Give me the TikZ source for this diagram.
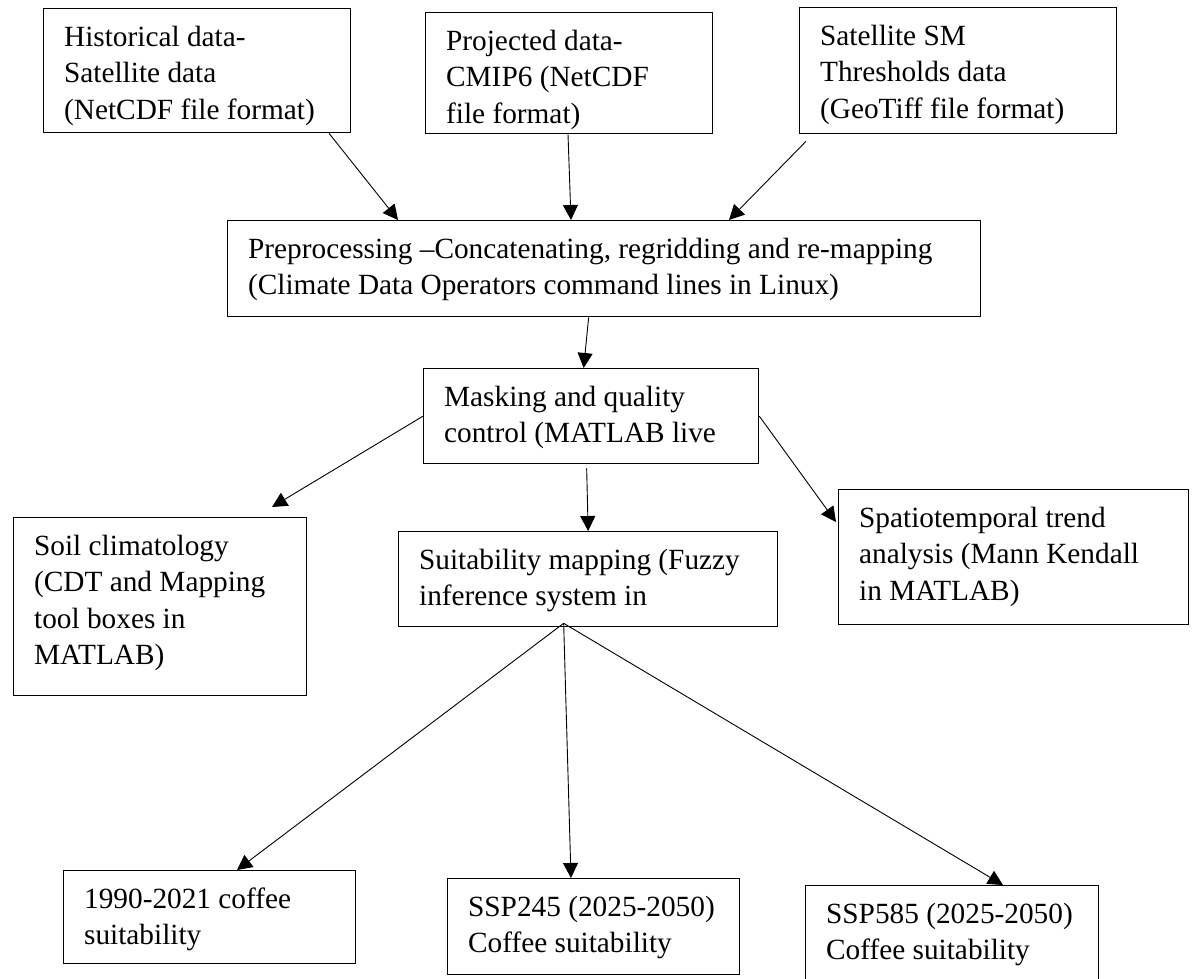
\documentclass[tikz,border=0pt]{standalone}
\usepackage{fontspec}
\setmainfont{Liberation Serif}
\usetikzlibrary{arrows.meta}
% fixed-size cell: text block pinned to the top-left corner of the box
\newcommand{\cellbox}[3]{\parbox[c][#2pt][t]{#1pt}{\vspace*{12pt}\hspace*{20.5pt}\begin{tabular}[t]{@{}l@{}}#3\end{tabular}}}
\begin{document}
\begin{tikzpicture}[x=1pt,y=-1pt,
  stage/.style={draw=black, line width=1.3pt, inner sep=0pt, anchor=north west,
    font=\fontsize{29.3}{36.5}\selectfont},
  flow/.style={draw=black, line width=0.9pt, -{Triangle[length=15pt,width=15pt]}}]
\fill[white] (0,0) rectangle (1196,979);
\useasboundingbox (0,0) rectangle (1196,979);

% inputs
\node[stage] (hist) at (43,8)  {\cellbox{307}{124}{Historical data-\\Satellite data\\(NetCDF file format)}};
\node[stage] (proj) at (425,12) {\cellbox{287}{121}{Projected data-\\CMIP6 (NetCDF\\file format)}};
\node[stage] (sat)  at (799,7)  {\cellbox{317}{126}{Satellite SM\\Thresholds data\\(GeoTiff file format)}};

% processing chain
\node[stage] (pre)  at (227,220) {\cellbox{753}{96}{Preprocessing –Concatenating, regridding and re-mapping\\(Climate Data Operators command lines in Linux)}};
\node[stage] (mask) at (423,368) {\cellbox{335}{95}{Masking and quality\\control (MATLAB live}};

% analyses
\node[stage] (soil) at (13,517)  {\cellbox{293}{178}{Soil climatology\\(CDT and Mapping\\tool boxes in\\MATLAB)}};
\node[stage] (suit) at (398,531) {\cellbox{379}{95}{Suitability mapping (Fuzzy\\inference system in}};
\node[stage] (spat) at (838,489) {\cellbox{350}{135}{Spatiotemporal trend\\analysis (Mann Kendall\\in MATLAB)}};

% outputs
\node[stage] (c1990)  at (63,870)  {\cellbox{292}{93}{1990-2021 coffee\\suitability}};
\node[stage] (ssp245) at (447,878) {\cellbox{292}{96}{SSP245 (2025-2050)\\Coffee suitability}};
\node[stage] (ssp585) at (805,885) {\cellbox{293}{100}{SSP585 (2025-2050)\\Coffee suitability}};

% connectors
\draw[flow] ([xshift=286pt]hist.south west) -- ([xshift=171pt]pre.north west);
\draw[flow] ([xshift=143pt]proj.south west) -- ([xshift=344pt]pre.north west);
\draw[flow] ([xshift=7pt,yshift=-7pt]sat.south west) -- ([xshift=502pt]pre.north west);
\draw[flow] ([xshift=-15.5pt]pre.south) -- ([xshift=-7.5pt]mask.north);
\draw[flow] (mask.west) -- ([xshift=259pt,yshift=10pt]soil.north west);
\draw[flow] ([xshift=-4.5pt,yshift=-4pt]mask.south) -- (suit.north);
\draw[flow] (mask.east) -- ([xshift=-2pt,yshift=-33pt]spat.north west);

\coordinate (fan) at ([xshift=-24.5pt,yshift=4pt]suit.south);
\draw[flow] (fan) -- ([xshift=174pt]c1990.north west);
\draw[flow] (fan) -- ([xshift=124pt]ssp245.north west);
\draw[flow] (fan) -- ([xshift=198pt]ssp585.north west);
\end{tikzpicture}
\end{document}
